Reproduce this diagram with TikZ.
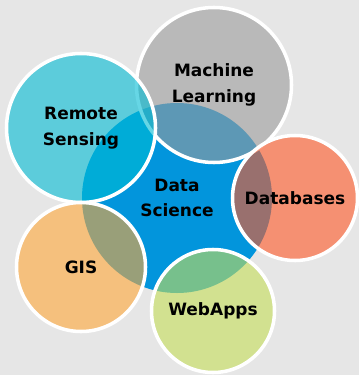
\documentclass[tikz,border=0pt]{standalone}
\usepackage{fontspec}
\setmainfont{DejaVu Sans}
\usepackage{tikz}
\usetikzlibrary{positioning}

\definecolor{bgGray}{RGB}{230,230,230}
\definecolor{dsBlue}{RGB}{2,149,220}
\definecolor{mlGray}{RGB}{155,155,155}
\definecolor{rsTeal}{RGB}{0,188,213}
\definecolor{dbSalmon}{RGB}{255,88,38}
\definecolor{gisOrange}{RGB}{255,167,55}
\definecolor{waGreen}{RGB}{197,222,88}

\begin{document}
\begin{tikzpicture}[
    x=0.03cm, y=-0.03cm,
    core/.style={circle, fill=dsBlue, inner sep=0pt, align=center,
      font=\bfseries\fontsize{14.5}{22}\selectfont},
    topic/.style={circle, draw=white, line width=3pt, fill=#1, fill opacity=0.6,
      text opacity=1, inner sep=0pt, align=center,
      font=\bfseries\fontsize{14.5}{22}\selectfont},
  ]
    % ===== background =====
    \fill[bgGray] (0,0) rectangle (359,375);
    \useasboundingbox (0,0) rectangle (359,375);
    % ===== centre =====
    \node[core, minimum size=5.7cm] (ds) at (177,198) {Data\\Science};
    % ===== topics (later ones lie on top) =====
    \node[topic=mlGray,    minimum size=4.65cm] (ml)  at (214,85)  {Machine\\Learning};
    \node[topic=rsTeal,    minimum size=4.47cm] (rs)  at (81,128)  {Remote\\Sensing};
    \node[topic=dbSalmon,  minimum size=3.75cm] (db)  at (295,198) {Databases};
    \node[topic=gisOrange, minimum size=3.87cm] (gis) at (81,267)  {GIS};
    \node[topic=waGreen,   minimum size=3.69cm] (wa)  at (213,311) {WebApps};
  \end{tikzpicture}
\end{document}
